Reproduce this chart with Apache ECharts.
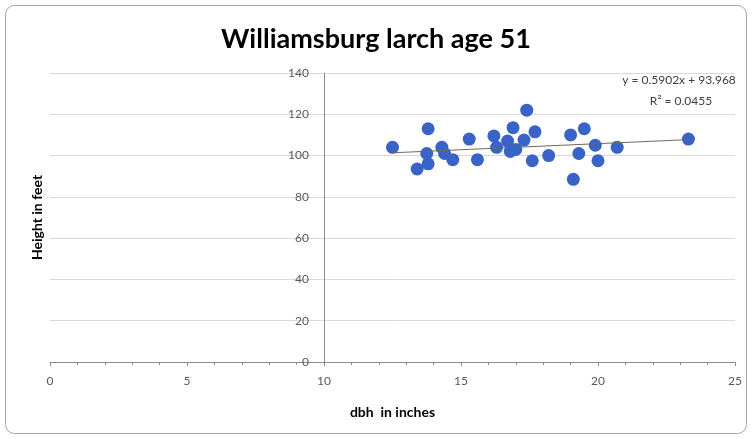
<!DOCTYPE html>
<html><head><meta charset="utf-8">
<script src="https://cdn.jsdelivr.net/npm/echarts@6/dist/echarts.min.js"></script>
<style>html,body{margin:0;padding:0;background:#fff}#c{width:752px;height:439px}</style>
</head><body><div id="c"></div>
<script>
const dbh = [12.5, 13.8, 13.75, 13.4, 13.8, 14.3, 14.4, 14.7, 15.3, 15.6, 16.2, 16.3, 16.7, 16.8, 16.9, 17.0, 17.3, 17.4, 17.7, 17.6, 18.2, 19.0, 19.5, 19.3, 19.1, 19.9, 20.0, 20.7, 23.3];
const height = [104, 113, 101, 93.5, 96, 104, 101, 98, 108, 98, 109.5, 104, 107, 102, 113.5, 103, 107.5, 122, 111.5, 97.5, 100, 110, 113, 101, 88.5, 105, 97.5, 104, 108];
const slope = 0.5902, intercept = 93.968, r2 = '0.0455';
const xTicks = [0, 25, 5];
const yTicks = [0, 140, 20];
const title = 'Williamsburg larch age 51';
const xName = 'dbh  in inches';
const yName = 'Height in feet';

const pts = dbh.map((x, i) => [x, height[i]]);
const xmin = Math.min(...dbh), xmax = Math.max(...dbh);
const trend = [[xmin, slope * xmin + intercept], [xmax, slope * xmax + intercept]];

const W = 752, H = 439;
const gl = 50, gr = 17, gt = 73, gb = 77;
const gw = W - gl - gr;
const crossX = 10;
const yOffset = -gw * (crossX - xTicks[0]) / (xTicks[1] - xTicks[0]);
const font = 'Lato, "Open Sans", sans-serif';

const chart = echarts.init(document.getElementById('c'), null, {renderer: 'canvas'});
chart.setOption({
  animation: false,
  backgroundColor: '#fff',
  title: {text: title, left: 'center', top: 21, textStyle: {fontFamily: font, fontWeight: 'bold', fontSize: 27, color: '#000'}},
  grid: {left: gl, right: gr, top: gt, bottom: gb},
  graphic: [
    {type: 'rect', shape: {x: 5.5, y: 5.5, width: W - 11, height: H - 11, r: 9}, style: {fill: 'none', stroke: '#a6a6a6', lineWidth: 1}, z: -1},
    {type: 'text', x: 37, y: gt + (H - gt - gb) / 2, rotation: Math.PI / 2, style: {text: yName, fontFamily: font, fontWeight: 'bold', fontSize: 14, fill: '#000', align: 'center', verticalAlign: 'middle'}},
    {type: 'text', x: 679, y: 80, style: {text: 'y = ' + slope + 'x + ' + intercept, fontFamily: font, fontSize: 12, fill: '#404040', align: 'center', verticalAlign: 'middle'}},
    {type: 'text', x: 681, y: 101, style: {text: 'R² = ' + r2, fontFamily: font, fontSize: 12, fill: '#404040', align: 'center', verticalAlign: 'middle'}}
  ],
  xAxis: {
    type: 'value', min: xTicks[0], max: xTicks[1], interval: xTicks[2],
    name: xName, nameLocation: 'middle', nameGap: 43,
    nameTextStyle: {fontFamily: font, fontWeight: 'bold', fontSize: 14, color: '#000'},
    axisLine: {show: true, onZero: false, lineStyle: {color: '#8c8c8c'}},
    axisTick: {show: true, length: 4, lineStyle: {color: '#8c8c8c'}},
    minorTick: {show: true, splitNumber: 5, length: 3, lineStyle: {color: '#8c8c8c'}},
    splitLine: {show: false},
    axisLabel: {color: '#595959', fontFamily: font, fontSize: 12, margin: 13}
  },
  yAxis: {
    type: 'value', min: yTicks[0], max: yTicks[1], interval: yTicks[2],
    position: 'left', offset: yOffset,
    axisLine: {show: true, lineStyle: {color: '#8c8c8c'}},
    axisTick: {show: false},
    splitLine: {show: true, lineStyle: {color: '#d9d9d9'}},
    axisLabel: {color: '#595959', fontFamily: font, fontSize: 12, margin: 15}
  },
  series: [
    {type: 'scatter', data: pts, symbolSize: 13, itemStyle: {color: '#3A63C8', opacity: 1}, z: 3},
    {type: 'line', data: trend, symbol: 'none', lineStyle: {color: '#6b6b5a', width: 1}, z: 4}
  ]
});
</script></body></html>
